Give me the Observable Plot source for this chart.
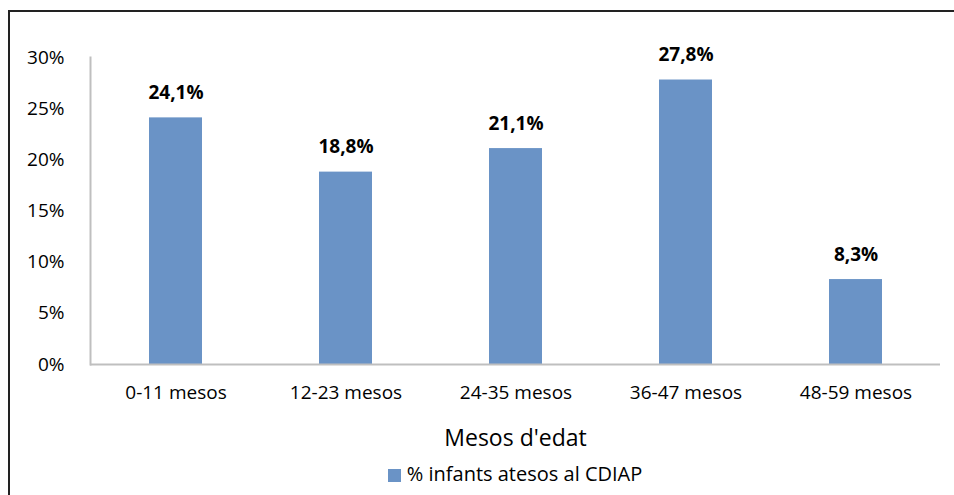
<!DOCTYPE html>
<html>
<head>
<meta charset="utf-8">
<script src="https://cdn.jsdelivr.net/npm/d3@7"></script>
<script src="https://cdn.jsdelivr.net/npm/@observablehq/plot@0.6"></script>
<style>
  html, body { margin: 0; padding: 0; background: #fff; overflow: hidden; }
  #wrap { position: relative; width: 954px; height: 495px; font-family: "Open Sans", sans-serif; }
  #frame { position: absolute; left: 8px; top: 10px; width: 1000px; height: 600px;
           border-left: 2px solid #222; border-top: 2px solid #222; box-sizing: border-box; }
  #chart { position: absolute; left: 0; top: 0; }
  #legend { position: absolute; left: 0; top: 461px; width: 1030px; text-align: center;
            font-size: 20px; line-height: 26px; color: #000; }
  #legend .sw { display: inline-block; width: 13px; height: 13px; background: #6a93c6;
                margin-right: 6px; vertical-align: -1px; }
</style>
</head>
<body>
<div id="wrap">
  <div id="frame"></div>
  <div id="chart"></div>
  <div id="legend"><span class="sw"></span><span id="legtext"></span></div>
</div>
<script>
const categories = ["0-11 mesos", "12-23 mesos", "24-35 mesos", "36-47 mesos", "48-59 mesos"];
const values = [24.1, 18.8, 21.1, 27.8, 8.3];
const yTicks = [0, 5, 10, 15, 20, 25, 30];
const xTitle = "Mesos d'edat";
const seriesName = "% infants atesos al CDIAP";

document.getElementById("legtext").textContent = seriesName;

const data = categories.map((c, i) => ({cat: c, v: values[i]}));
const fmt = v => v.toFixed(1).replace(".", ",") + "%";

const plot = Plot.plot({
  width: 954,
  height: 495,
  marginLeft: 90,
  marginRight: 14,
  marginTop: 57,
  marginBottom: 131,
  style: {fontFamily: "'Open Sans', sans-serif", fontSize: "19px", color: "#000", background: "transparent"},
  x: {domain: categories, paddingInner: 0.69, paddingOuter: 0.345, label: null},
  y: {domain: [0, 30], label: null},
  marks: [
    Plot.barY(data, {x: "cat", y: "v", fill: "#6a93c6"}),
    Plot.ruleY([0], {stroke: "#bfbfbf", strokeWidth: 2}),
    Plot.frame({anchor: "left", stroke: "#bfbfbf", strokeWidth: 2}),
    Plot.text(data, {x: "cat", y: "v", text: d => fmt(d.v), dy: -25, fontWeight: "bold", fontSize: 19, fill: "#000"}),
    Plot.axisY({ticks: yTicks, tickFormat: d => d + "%", tickSize: 0, tickPadding: 26, fontSize: 19, label: null}),
    Plot.axisX({tickSize: 0, tickPadding: 21, fontSize: 19, label: null}),
    Plot.text([xTitle], {frameAnchor: "bottom", lineAnchor: "middle", dy: 74, fontSize: 23, fill: "#000"})
  ]
});
document.getElementById("chart").appendChild(plot);
</script>
</body>
</html>
